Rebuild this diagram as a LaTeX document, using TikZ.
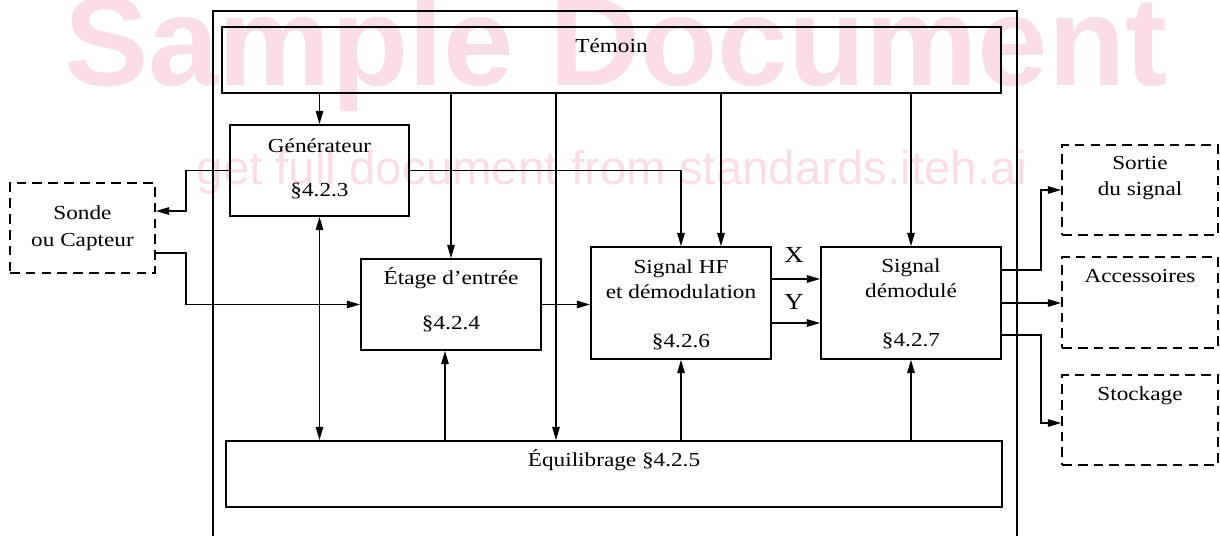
\documentclass[tikz,border=0pt]{standalone}
\usepackage{fontspec}
\setmainfont{Liberation Serif}[FakeStretch=1.17]
\newfontfamily\wmfont{Liberation Sans}
\usetikzlibrary{arrows.meta,calc}
\definecolor{wmpink}{RGB}{249,221,231}
\begin{document}
\begin{tikzpicture}[x=0.02cm,y=-0.02cm,
  box/.style={draw, line width=1.1pt, inner sep=0pt, minimum width=3.6cm},
  dbox/.style={draw, line width=1.1pt, dash pattern=on 5.5pt off 3.5pt, inner sep=0pt, minimum width=3.12cm},
  conn/.style={line width=0.6pt, -{Triangle[length=7.5pt,width=4.3pt]}},
  dconn/.style={line width=0.6pt, {Triangle[length=7.5pt,width=4.3pt]}-{Triangle[length=7.5pt,width=4.3pt]}},
  txt/.style={anchor=base, inner sep=0pt, font=\fontsize{11.3}{13}\selectfont},
  xy/.style={anchor=base, inner sep=0pt, font=\fontsize{13}{15}\selectfont}]
\useasboundingbox (0,0) rectangle (1220,536);
% watermark
\node[anchor=base, inner sep=0pt, text=wmpink, font=\wmfont\bfseries\fontsize{72}{72}\selectfont] (wm1) at (616,86) {Sample Document};
\node[anchor=base, inner sep=0pt, text=wmpink, font=\wmfont\fontsize{27}{27}\selectfont] (wm2) at (612,185) {get full document from standards.iteh.ai};
% outer frame
\draw[line width=0.9pt] (213,536) -- (213,11) -- (1017,11) -- (1017,536);
% boxes
\node[box, minimum width=15.58cm, minimum height=1.32cm] (temoin) at (611.5,60) {};
\node[box, minimum width=3.58cm, minimum height=1.82cm] (gen) at (319.5,170.5) {};
\node[dbox, minimum width=2.9cm, minimum height=1.8cm] (sonde) at (82.5,228) {};
\node[box, minimum height=1.82cm] (etage) at (451,304.5) {};
\node[box, minimum height=2.24cm] (hf) at (681,303) {};
\node[box, minimum height=2.24cm] (dem) at (911,303) {};
\node[box, minimum width=15.52cm, minimum height=1.32cm] (equi) at (614,474) {};
\node[dbox, minimum height=1.8cm] (sortie) at (1140,190) {};
\node[dbox, minimum height=1.82cm] (acc) at (1140,302.5) {};
\node[dbox, minimum height=1.8cm] (stock) at (1140,420) {};
% texts
\node[txt] (t1) at (611.5,53) {Témoin};
\node[txt] (t2) at (319.5,153) {Générateur};
\node[txt] (t3) at (319.5,197) {§4.2.3};
\node[txt] (t4) at (82.5,220) {Sonde};
\node[txt] (t5) at (82.5,247) {ou Capteur};
\node[txt] (t6) at (451,285) {Étage d’entrée};
\node[txt] (t7) at (451,330) {§4.2.4};
\node[txt] (t8) at (681,274) {Signal HF};
\node[txt] (t9) at (681,299) {et démodulation};
\node[txt] (t10) at (681,348) {§4.2.6};
\node[txt] (t11) at (911,273) {Signal};
\node[txt] (t12) at (911,298) {démodulé};
\node[txt] (t13) at (911,347) {§4.2.7};
\node[txt] (t14) at (614,467) {Équilibrage §4.2.5};
\node[txt] (t15) at (1140,170) {Sortie};
\node[txt] (t16) at (1140,196) {du signal};
\node[txt] (t17) at (1140,283) {Accessoires};
\node[txt] (t18) at (1140,401) {Stockage};
\node[xy] (lx) at (794,263) {X};
\node[xy] (ly) at (794,310) {Y};
% helper coordinates
\coordinate (c556) at (556,0);
\coordinate (c721) at (721,0);
\coordinate (c445) at (445,0);
\coordinate (c186) at (186,0);
\coordinate (c1041) at (1041,0);
% connectors from Témoin
\draw[conn] (temoin.south -| gen.north) -- (gen.north);
\draw[conn] (temoin.south -| etage.north) -- (etage.north);
\draw[conn] (temoin.south -| c556) -- (equi.north -| c556);
\draw[conn] (temoin.south -| c721) -- (hf.north -| c721);
\draw[conn] (temoin.south -| dem.north) -- (dem.north);
% générateur
\draw[conn] (gen.east) -| (hf.north);
\draw[conn] (gen.west) -- (gen.west -| c186) |- ($(sonde.east)+(0,-17)$);
\draw[dconn] (gen.south) -- (equi.north -| gen.south);
% sonde to étage
\draw[conn] ($(sonde.east)+(0,25)$) -| (c186 |- etage.west) -- (etage.west);
% chain
\draw[conn] (etage.east) -- (etage.east -| hf.west);
\draw[conn] ($(hf.east)+(0,-24)$) -- ($(dem.west)+(0,-24)$);
\draw[conn] ($(hf.east)+(0,20)$) -- ($(dem.west)+(0,20)$);
% équilibrage up
\draw[conn] (equi.north -| c445) -- (etage.south -| c445);
\draw[conn] (equi.north -| hf.south) -- (hf.south);
\draw[conn] (equi.north -| dem.south) -- (dem.south);
% outputs
\draw[conn] ($(dem.east)+(0,-33)$) -| (c1041 |- sortie.west) -- (sortie.west);
\draw[conn] (dem.east) -- (acc.west |- dem.east);
\draw[conn] ($(dem.east)+(0,32)$) -| ($(c1041 |- stock.west)+(0,3)$) -- ($(stock.west)+(0,3)$);
\end{tikzpicture}
\end{document}
